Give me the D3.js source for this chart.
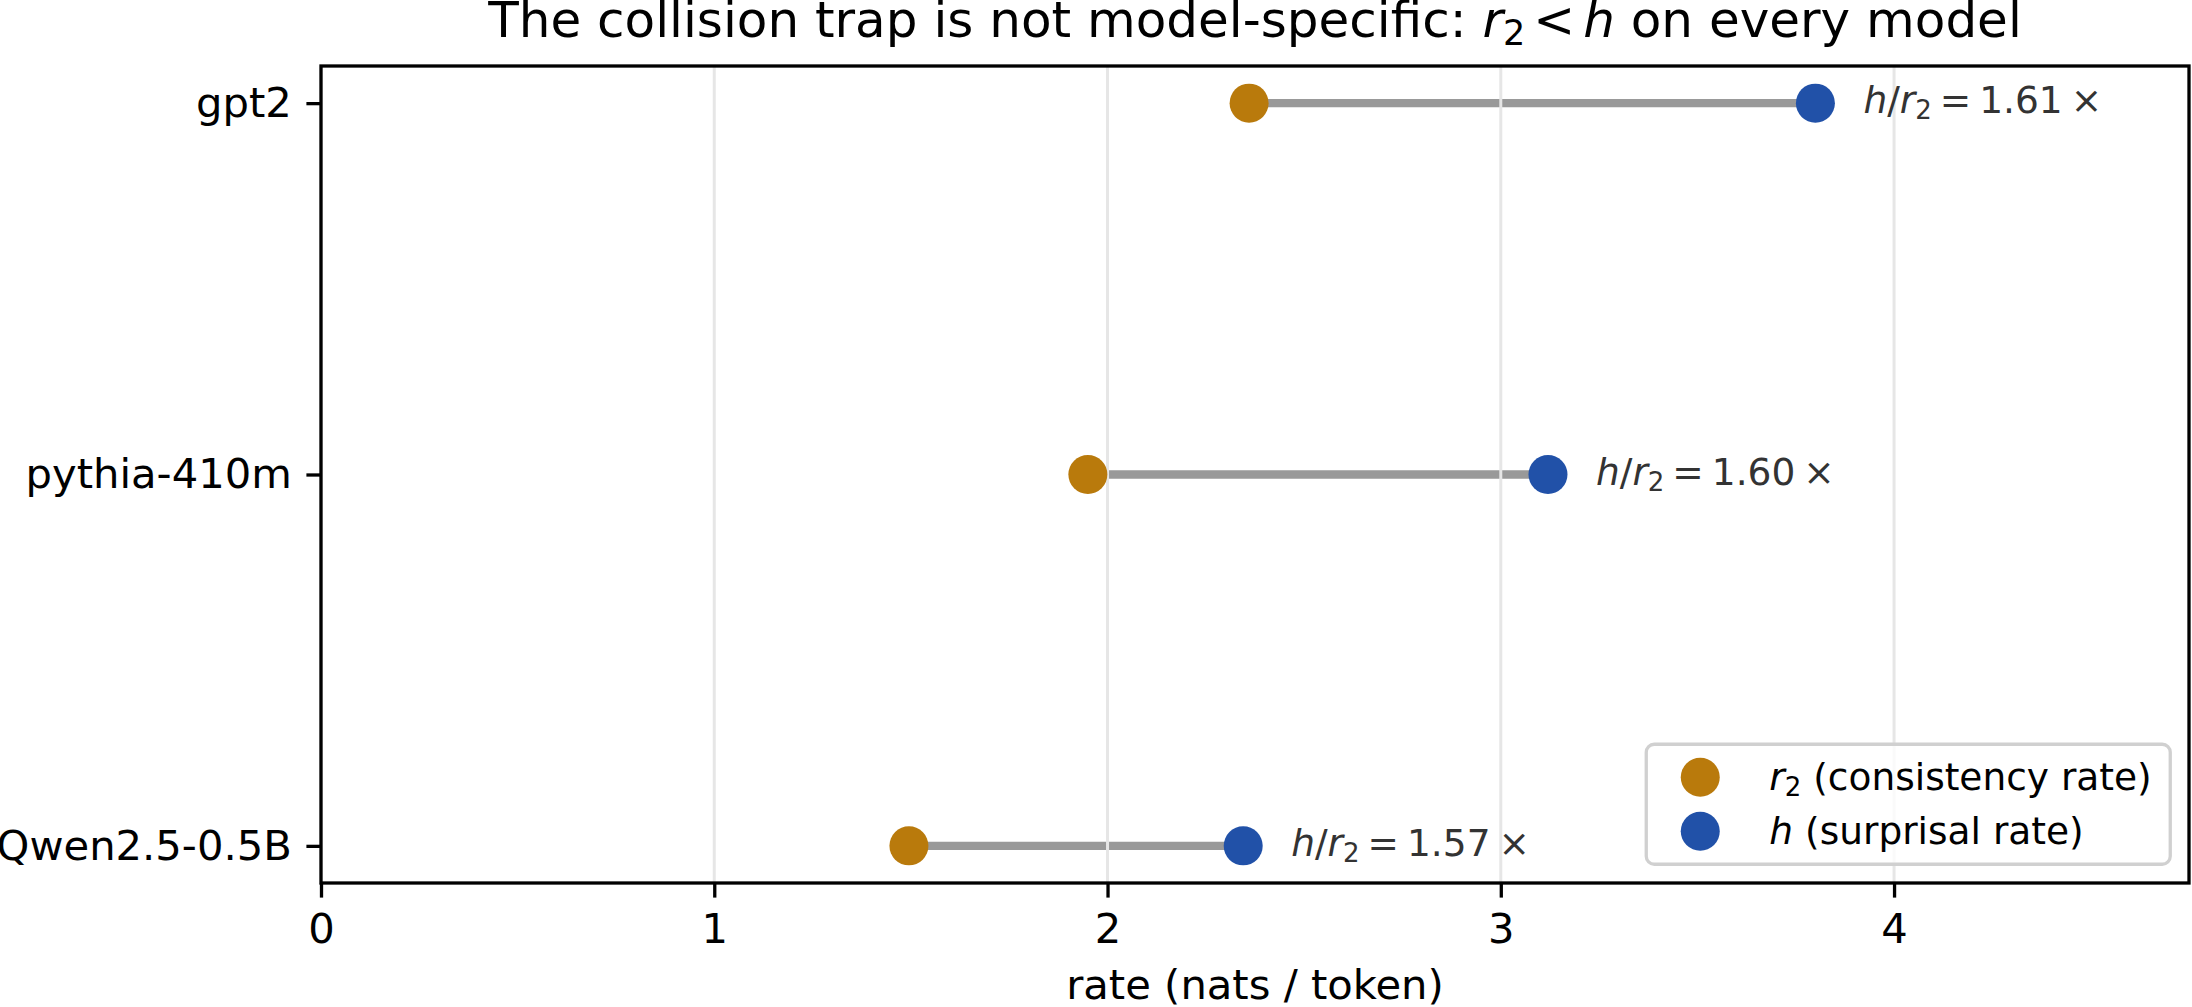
<!DOCTYPE html>
<html>
<head>
<meta charset="utf-8">
<script src="https://cdn.jsdelivr.net/npm/d3@7"></script>
<style>
  body { margin: 0; background: #fff; }
  svg { display: block; font-family: "DejaVu Sans", sans-serif; }
</style>
</head>
<body>
<svg id="chart"></svg>
<script>
// data
const models = ["gpt2", "pythia-410m", "Qwen2.5-0.5B"];
const r2Rate = [2.36, 1.95, 1.495];   // consistency rate
const hRate = [3.80, 3.12, 2.345];    // surprisal rate
const xTicks = [0, 1, 2, 3, 4];

const W = 2192, H = 1007;
const margin = { top: 66, right: 3, bottom: 124, left: 321 };
const colR2 = "#b97a0c", colH = "#2151a8";

const svg = d3.select("#chart").attr("width", W).attr("height", H);

const x = d3.scaleLinear()
  .domain([0, d3.max(hRate) * 1.25])
  .range([margin.left, W - margin.right]);
const y = d3.scalePoint()
  .domain(models)
  .range([margin.top, H - margin.bottom])
  .padding(0.1);

const rows = models.map((m, i) => ({ m, r2: r2Rate[i], h: hRate[i] }));

// dumbbell connectors
svg.append("g").selectAll("line")
  .data(rows).join("line")
  .attr("x1", d => x(d.r2)).attr("x2", d => x(d.h))
  .attr("y1", d => y(d.m)).attr("y2", d => y(d.m))
  .attr("stroke", "#999").attr("stroke-width", 8.3);

// vertical grid
svg.append("g").selectAll("line")
  .data(xTicks).join("line")
  .attr("x1", d => x(d)).attr("x2", d => x(d))
  .attr("y1", margin.top).attr("y2", H - margin.bottom)
  .attr("stroke", "#e6e6e6").attr("stroke-width", 3);

// markers
const dots = svg.append("g");
dots.selectAll(".r2").data(rows).join("circle").attr("class", "r2")
  .attr("cx", d => x(d.r2)).attr("cy", d => y(d.m)).attr("r", 19.5).attr("fill", colR2);
dots.selectAll(".h").data(rows).join("circle").attr("class", "h")
  .attr("cx", d => x(d.h)).attr("cy", d => y(d.m)).attr("r", 19.5).attr("fill", colH);

// ratio labels
const fmt = d3.format(".2f");
const ann = svg.append("g").selectAll("text")
  .data(rows).join("text")
  .attr("x", d => x(d.h) + 48)
  .attr("y", d => y(d.m) + 10)
  .attr("font-size", 37.5)
  .attr("fill", "#333");
ann.append("tspan").attr("font-style", "italic").text("h");
ann.append("tspan").text("/");
ann.append("tspan").attr("font-style", "italic").text("r");
ann.append("tspan").attr("font-size", 26).attr("dy", 6).text("2");
ann.append("tspan").attr("dy", -6).attr("dx", 8).text("=");
ann.append("tspan").attr("dx", 8).text(d => fmt(d.h / d.r2));
ann.append("tspan").attr("dx", 8).text("×");

// axes
const xAxis = svg.append("g")
  .attr("transform", `translate(0,${H - margin.bottom})`)
  .call(d3.axisBottom(x).tickValues(xTicks).tickFormat(d3.format("d"))
    .tickSize(14.6).tickPadding(15.5).tickSizeOuter(0));
const yAxis = svg.append("g")
  .attr("transform", `translate(${margin.left},0)`)
  .call(d3.axisLeft(y).tickSize(14.6).tickPadding(14.6).tickSizeOuter(0));
[xAxis, yAxis].forEach(g => {
  g.attr("font-family", null).attr("font-size", 41.7);
  g.select(".domain").remove();
  g.selectAll(".tick line").attr("stroke", "#000").attr("stroke-width", 3.3);
  g.selectAll(".tick text").attr("fill", "#000");
});

// frame
svg.append("rect")
  .attr("x", margin.left).attr("y", margin.top)
  .attr("width", W - margin.left - margin.right)
  .attr("height", H - margin.top - margin.bottom)
  .attr("fill", "none").attr("stroke", "#000").attr("stroke-width", 3.3);

// x label
svg.append("text")
  .attr("x", (margin.left + W - margin.right) / 2).attr("y", 999)
  .attr("text-anchor", "middle").attr("font-size", 41.7)
  .text("rate (nats / token)");

// title
const title = svg.append("text")
  .attr("x", (margin.left + W - margin.right) / 2).attr("y", 37)
  .attr("text-anchor", "middle").attr("font-size", 50);
title.append("tspan").text("The collision trap is not model-specific: ");
title.append("tspan").attr("font-style", "italic").text("r");
title.append("tspan").attr("font-size", 35).attr("dy", 8).text("2");
title.append("tspan").attr("dy", -8).attr("dx", 8).text("<");
title.append("tspan").attr("dx", 8).attr("font-style", "italic").text("h");
title.append("tspan").text(" on every model");

// legend, lower right
const legW = 524, legH = 120, pad = 18.75;
const lx = W - margin.right - pad - legW, ly = H - margin.bottom - pad - legH;
const leg = svg.append("g").attr("transform", `translate(${lx},${ly})`);
leg.append("rect").attr("width", legW).attr("height", legH).attr("rx", 8)
  .attr("fill", "#fff").attr("fill-opacity", 0.8)
  .attr("stroke", "#d0d0d0").attr("stroke-width", 3.3);
const legItems = [
  { c: colR2, sym: "r", sub: "2", txt: "(consistency rate)" },
  { c: colH, sym: "h", sub: "", txt: "(surprisal rate)" }
];
const li = leg.selectAll(".item").data(legItems).join("g")
  .attr("transform", (d, i) => `translate(0,${33 + i * 54})`);
li.append("circle").attr("cx", 54).attr("r", 19.5).attr("fill", d => d.c);
const lt = li.append("text").attr("x", 123).attr("y", 13).attr("font-size", 37.5);
lt.append("tspan").attr("font-style", "italic").text(d => d.sym);
lt.append("tspan").attr("font-size", 26).attr("dy", 6).text(d => d.sub);
lt.append("tspan").attr("dy", d => d.sub ? -6 : 0).attr("dx", 12).text(d => d.txt);
</script>
</body>
</html>
